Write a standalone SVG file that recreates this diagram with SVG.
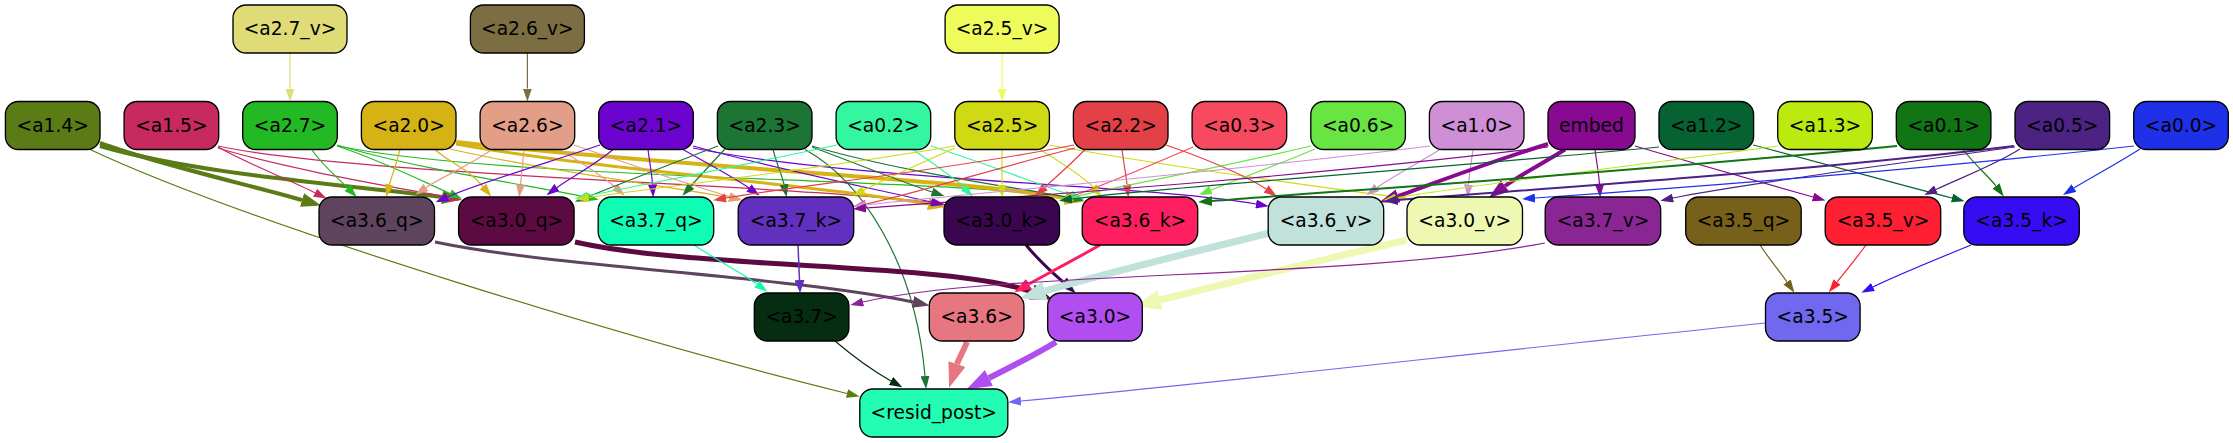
<svg xmlns="http://www.w3.org/2000/svg" width="2233" height="443" viewBox="0 0 2233 443">
<style>
.n rect{stroke:#000;stroke-width:1.33}
.n text{font-family:"DejaVu Sans","Liberation Sans",sans-serif;font-size:18.67px;text-anchor:middle;fill:#000}
#edges path{fill:none;stroke-width:1.2}
</style>
<defs>
<marker id="t-a27v" viewBox="0 0 10 10" refX="0" refY="5" markerUnits="userSpaceOnUse" markerWidth="13" markerHeight="9" orient="auto" preserveAspectRatio="none"><path d="M0,0L10,5L0,10z" fill="#dfdb77"/></marker>
<marker id="t-a26v" viewBox="0 0 10 10" refX="0" refY="5" markerUnits="userSpaceOnUse" markerWidth="13" markerHeight="9" orient="auto" preserveAspectRatio="none"><path d="M0,0L10,5L0,10z" fill="#7d6d42"/></marker>
<marker id="t-a25v" viewBox="0 0 10 10" refX="0" refY="5" markerUnits="userSpaceOnUse" markerWidth="13" markerHeight="9" orient="auto" preserveAspectRatio="none"><path d="M0,0L10,5L0,10z" fill="#eefb5a"/></marker>
<marker id="t-a14" viewBox="0 0 10 10" refX="0" refY="5" markerUnits="userSpaceOnUse" markerWidth="13" markerHeight="9" orient="auto" preserveAspectRatio="none"><path d="M0,0L10,5L0,10z" fill="#5a7b15"/></marker>
<marker id="k-a14" viewBox="0 0 10 10" refX="0" refY="5" markerUnits="userSpaceOnUse" markerWidth="20" markerHeight="14" orient="auto" preserveAspectRatio="none"><path d="M0,0L10,5L0,10z" fill="#5a7b15"/></marker>
<marker id="t-a15" viewBox="0 0 10 10" refX="0" refY="5" markerUnits="userSpaceOnUse" markerWidth="13" markerHeight="9" orient="auto" preserveAspectRatio="none"><path d="M0,0L10,5L0,10z" fill="#c72a5e"/></marker>
<marker id="t-a27" viewBox="0 0 10 10" refX="0" refY="5" markerUnits="userSpaceOnUse" markerWidth="13" markerHeight="9" orient="auto" preserveAspectRatio="none"><path d="M0,0L10,5L0,10z" fill="#23b924"/></marker>
<marker id="t-a20" viewBox="0 0 10 10" refX="0" refY="5" markerUnits="userSpaceOnUse" markerWidth="13" markerHeight="9" orient="auto" preserveAspectRatio="none"><path d="M0,0L10,5L0,10z" fill="#d6b315"/></marker>
<marker id="k-a20a" viewBox="0 0 10 10" refX="0" refY="5" markerUnits="userSpaceOnUse" markerWidth="18" markerHeight="12" orient="auto" preserveAspectRatio="none"><path d="M0,0L10,5L0,10z" fill="#d6b315"/></marker>
<marker id="k-a20b" viewBox="0 0 10 10" refX="0" refY="5" markerUnits="userSpaceOnUse" markerWidth="20" markerHeight="14" orient="auto" preserveAspectRatio="none"><path d="M0,0L10,5L0,10z" fill="#d6b315"/></marker>
<marker id="t-a26" viewBox="0 0 10 10" refX="0" refY="5" markerUnits="userSpaceOnUse" markerWidth="13" markerHeight="9" orient="auto" preserveAspectRatio="none"><path d="M0,0L10,5L0,10z" fill="#e39e87"/></marker>
<marker id="t-a21" viewBox="0 0 10 10" refX="0" refY="5" markerUnits="userSpaceOnUse" markerWidth="13" markerHeight="9" orient="auto" preserveAspectRatio="none"><path d="M0,0L10,5L0,10z" fill="#6c04cf"/></marker>
<marker id="t-a23" viewBox="0 0 10 10" refX="0" refY="5" markerUnits="userSpaceOnUse" markerWidth="13" markerHeight="9" orient="auto" preserveAspectRatio="none"><path d="M0,0L10,5L0,10z" fill="#1c7534"/></marker>
<marker id="t-a02" viewBox="0 0 10 10" refX="0" refY="5" markerUnits="userSpaceOnUse" markerWidth="13" markerHeight="9" orient="auto" preserveAspectRatio="none"><path d="M0,0L10,5L0,10z" fill="#34f6a0"/></marker>
<marker id="t-a25" viewBox="0 0 10 10" refX="0" refY="5" markerUnits="userSpaceOnUse" markerWidth="13" markerHeight="9" orient="auto" preserveAspectRatio="none"><path d="M0,0L10,5L0,10z" fill="#d0da14"/></marker>
<marker id="t-a22" viewBox="0 0 10 10" refX="0" refY="5" markerUnits="userSpaceOnUse" markerWidth="13" markerHeight="9" orient="auto" preserveAspectRatio="none"><path d="M0,0L10,5L0,10z" fill="#e44047"/></marker>
<marker id="t-a03" viewBox="0 0 10 10" refX="0" refY="5" markerUnits="userSpaceOnUse" markerWidth="13" markerHeight="9" orient="auto" preserveAspectRatio="none"><path d="M0,0L10,5L0,10z" fill="#f74a60"/></marker>
<marker id="t-a06" viewBox="0 0 10 10" refX="0" refY="5" markerUnits="userSpaceOnUse" markerWidth="13" markerHeight="9" orient="auto" preserveAspectRatio="none"><path d="M0,0L10,5L0,10z" fill="#68e443"/></marker>
<marker id="t-a10" viewBox="0 0 10 10" refX="0" refY="5" markerUnits="userSpaceOnUse" markerWidth="13" markerHeight="9" orient="auto" preserveAspectRatio="none"><path d="M0,0L10,5L0,10z" fill="#cf8fd6"/></marker>
<marker id="t-emb" viewBox="0 0 10 10" refX="0" refY="5" markerUnits="userSpaceOnUse" markerWidth="13" markerHeight="9" orient="auto" preserveAspectRatio="none"><path d="M0,0L10,5L0,10z" fill="#880a91"/></marker>
<marker id="k-emb" viewBox="0 0 10 10" refX="0" refY="5" markerUnits="userSpaceOnUse" markerWidth="20" markerHeight="14" orient="auto" preserveAspectRatio="none"><path d="M0,0L10,5L0,10z" fill="#880a91"/></marker>
<marker id="t-a12" viewBox="0 0 10 10" refX="0" refY="5" markerUnits="userSpaceOnUse" markerWidth="13" markerHeight="9" orient="auto" preserveAspectRatio="none"><path d="M0,0L10,5L0,10z" fill="#066331"/></marker>
<marker id="t-a13" viewBox="0 0 10 10" refX="0" refY="5" markerUnits="userSpaceOnUse" markerWidth="13" markerHeight="9" orient="auto" preserveAspectRatio="none"><path d="M0,0L10,5L0,10z" fill="#bbea11"/></marker>
<marker id="t-a01" viewBox="0 0 10 10" refX="0" refY="5" markerUnits="userSpaceOnUse" markerWidth="13" markerHeight="9" orient="auto" preserveAspectRatio="none"><path d="M0,0L10,5L0,10z" fill="#117516"/></marker>
<marker id="k-a01" viewBox="0 0 10 10" refX="0" refY="5" markerUnits="userSpaceOnUse" markerWidth="14" markerHeight="10" orient="auto" preserveAspectRatio="none"><path d="M0,0L10,5L0,10z" fill="#117516"/></marker>
<marker id="t-a05" viewBox="0 0 10 10" refX="0" refY="5" markerUnits="userSpaceOnUse" markerWidth="13" markerHeight="9" orient="auto" preserveAspectRatio="none"><path d="M0,0L10,5L0,10z" fill="#4c2383"/></marker>
<marker id="k-a05" viewBox="0 0 10 10" refX="0" refY="5" markerUnits="userSpaceOnUse" markerWidth="14" markerHeight="10" orient="auto" preserveAspectRatio="none"><path d="M0,0L10,5L0,10z" fill="#4c2383"/></marker>
<marker id="t-a00" viewBox="0 0 10 10" refX="0" refY="5" markerUnits="userSpaceOnUse" markerWidth="13" markerHeight="9" orient="auto" preserveAspectRatio="none"><path d="M0,0L10,5L0,10z" fill="#1e31e9"/></marker>
<marker id="k-a36q" viewBox="0 0 10 10" refX="0" refY="5" markerUnits="userSpaceOnUse" markerWidth="17" markerHeight="12" orient="auto" preserveAspectRatio="none"><path d="M0,0L10,5L0,10z" fill="#5e455d"/></marker>
<marker id="k-a30q" viewBox="0 0 10 10" refX="0" refY="5" markerUnits="userSpaceOnUse" markerWidth="22" markerHeight="16" orient="auto" preserveAspectRatio="none"><path d="M0,0L10,5L0,10z" fill="#5b0b42"/></marker>
<marker id="t-a37q" viewBox="0 0 10 10" refX="0" refY="5" markerUnits="userSpaceOnUse" markerWidth="13" markerHeight="9" orient="auto" preserveAspectRatio="none"><path d="M0,0L10,5L0,10z" fill="#0ffcb5"/></marker>
<marker id="t-a37k" viewBox="0 0 10 10" refX="0" refY="5" markerUnits="userSpaceOnUse" markerWidth="13" markerHeight="10" orient="auto" preserveAspectRatio="none"><path d="M0,0L10,5L0,10z" fill="#6230bf"/></marker>
<marker id="k-a30k" viewBox="0 0 10 10" refX="0" refY="5" markerUnits="userSpaceOnUse" markerWidth="17" markerHeight="12" orient="auto" preserveAspectRatio="none"><path d="M0,0L10,5L0,10z" fill="#3a0650"/></marker>
<marker id="k-a36k" viewBox="0 0 10 10" refX="0" refY="5" markerUnits="userSpaceOnUse" markerWidth="17" markerHeight="12" orient="auto" preserveAspectRatio="none"><path d="M0,0L10,5L0,10z" fill="#fd1f5f"/></marker>
<marker id="k-a36v" viewBox="0 0 10 10" refX="0" refY="5" markerUnits="userSpaceOnUse" markerWidth="26" markerHeight="20" orient="auto" preserveAspectRatio="none"><path d="M0,0L10,5L0,10z" fill="#c1e2db"/></marker>
<marker id="k-a30v" viewBox="0 0 10 10" refX="0" refY="5" markerUnits="userSpaceOnUse" markerWidth="26" markerHeight="20" orient="auto" preserveAspectRatio="none"><path d="M0,0L10,5L0,10z" fill="#eef8b2"/></marker>
<marker id="t-a37v" viewBox="0 0 10 10" refX="0" refY="5" markerUnits="userSpaceOnUse" markerWidth="13" markerHeight="9" orient="auto" preserveAspectRatio="none"><path d="M0,0L10,5L0,10z" fill="#8a2694"/></marker>
<marker id="t-a35q" viewBox="0 0 10 10" refX="0" refY="5" markerUnits="userSpaceOnUse" markerWidth="13" markerHeight="9" orient="auto" preserveAspectRatio="none"><path d="M0,0L10,5L0,10z" fill="#776019"/></marker>
<marker id="t-a35v" viewBox="0 0 10 10" refX="0" refY="5" markerUnits="userSpaceOnUse" markerWidth="13" markerHeight="9" orient="auto" preserveAspectRatio="none"><path d="M0,0L10,5L0,10z" fill="#fe1f32"/></marker>
<marker id="t-a35k" viewBox="0 0 10 10" refX="0" refY="5" markerUnits="userSpaceOnUse" markerWidth="13" markerHeight="9" orient="auto" preserveAspectRatio="none"><path d="M0,0L10,5L0,10z" fill="#360cf3"/></marker>
<marker id="t-a37" viewBox="0 0 10 10" refX="0" refY="5" markerUnits="userSpaceOnUse" markerWidth="13" markerHeight="9" orient="auto" preserveAspectRatio="none"><path d="M0,0L10,5L0,10z" fill="#062d12"/></marker>
<marker id="k-a36" viewBox="0 0 10 10" refX="0" refY="5" markerUnits="userSpaceOnUse" markerWidth="25" markerHeight="18" orient="auto" preserveAspectRatio="none"><path d="M0,0L10,5L0,10z" fill="#e67680"/></marker>
<marker id="k-a30" viewBox="0 0 10 10" refX="0" refY="5" markerUnits="userSpaceOnUse" markerWidth="25" markerHeight="18" orient="auto" preserveAspectRatio="none"><path d="M0,0L10,5L0,10z" fill="#b14ef0"/></marker>
<marker id="t-a35" viewBox="0 0 10 10" refX="0" refY="5" markerUnits="userSpaceOnUse" markerWidth="13" markerHeight="9" orient="auto" preserveAspectRatio="none"><path d="M0,0L10,5L0,10z" fill="#7168f0"/></marker>
</defs>
<rect width="2233" height="443" fill="#fff"/>
<g id="edges">
<path d="M290,53 L290,88.5" stroke="#dfdb77" marker-end="url(#t-a27v)"/>
<path d="M527.4,53 L527.4,88.5" stroke="#7d6d42" marker-end="url(#t-a26v)"/>
<path d="M1002.1,53 L1002.1,88.5" stroke="#eefb5a" marker-end="url(#t-a25v)"/>
<path d="M100,143 C160,165 250,185 302,200" stroke="#5a7b15" style="stroke-width:4" marker-end="url(#k-a14)"/>
<path d="M100,146 C200,175 350,185 442,197" stroke="#5a7b15" style="stroke-width:4" marker-end="url(#k-a14)"/>
<path d="M89,149 C250,225 650,345 847,393.5" stroke="#5a7b15" marker-end="url(#t-a14)"/>
<path d="M218,147 C250,165 290,180 315,192.7" stroke="#c72a5e" marker-end="url(#t-a15)"/>
<path d="M218,148 C290,170 400,188 449,197.5" stroke="#c72a5e" marker-end="url(#t-a15)"/>
<path d="M218,146 C350,175 800,185 933,203" stroke="#c72a5e" marker-end="url(#t-a15)"/>
<path d="M311.7,149.5 C322,165 338,178 347.7,187.9" stroke="#23b924" marker-end="url(#t-a27)"/>
<path d="M337,146 C380,160 420,180 450,193.5" stroke="#23b924" marker-end="url(#t-a27)"/>
<path d="M337,145 C420,170 530,185 586,197" stroke="#23b924" marker-end="url(#t-a27)"/>
<path d="M338,146 C500,180 950,178 1071,198" stroke="#23b924" marker-end="url(#t-a27)"/>
<path d="M400,149.5 C396,165 392,175 389.5,184.5" stroke="#d6b315" marker-end="url(#t-a20)"/>
<path d="M435,149.5 C448,162 468,168 483,186.5" stroke="#d6b315" marker-end="url(#t-a20)"/>
<path d="M456,144 C600,170 820,185 928,204" stroke="#d6b315" style="stroke-width:3" marker-end="url(#k-a20a)"/>
<path d="M456,142 C650,165 950,178 1065,198" stroke="#d6b315" style="stroke-width:4" marker-end="url(#k-a20b)"/>
<path d="M450,149 C550,172 680,188 729,197.5" stroke="#d6b315" marker-end="url(#t-a20)"/>
<path d="M492,149.5 C470,165 440,178 426,187.5" stroke="#e39e87" marker-end="url(#t-a26)"/>
<path d="M524,149.5 L520.5,184.5" stroke="#e39e87" marker-end="url(#t-a26)"/>
<path d="M560,149.5 C585,165 605,178 615,187" stroke="#e39e87" marker-end="url(#t-a26)"/>
<path d="M574,145 C640,168 700,188 729.5,196.5" stroke="#e39e87" marker-end="url(#t-a26)"/>
<path d="M600,145 C540,165 480,183 447.5,197" stroke="#6c04cf" marker-end="url(#t-a21)"/>
<path d="M613,149.5 C595,165 570,178 557,187.5" stroke="#6c04cf" marker-end="url(#t-a21)"/>
<path d="M648,149.5 C650,165 652,175 652.5,184.5" stroke="#6c04cf" marker-end="url(#t-a21)"/>
<path d="M683,149.5 C710,165 735,178 749,188" stroke="#6c04cf" marker-end="url(#t-a21)"/>
<path d="M693,146 C780,170 880,190 931,202" stroke="#6c04cf" marker-end="url(#t-a21)"/>
<path d="M693,148 C850,180 1150,185 1256,204" stroke="#6c04cf" marker-end="url(#t-a21)"/>
<path d="M725,149 C710,165 698,178 691,186" stroke="#1c7534" marker-end="url(#t-a23)"/>
<path d="M718,146 C660,168 610,188 587,197" stroke="#1c7534" marker-end="url(#t-a23)"/>
<path d="M773,149.5 C777,165 782,175 784,184.5" stroke="#1c7534" marker-end="url(#t-a23)"/>
<path d="M812,147 C860,165 905,183 932,192" stroke="#1c7534" marker-end="url(#t-a23)"/>
<path d="M812,146 C900,172 1020,188 1071,198" stroke="#1c7534" marker-end="url(#t-a23)"/>
<path d="M805,149.5 C860,180 915,260 925,376" stroke="#1c7534" marker-end="url(#t-a23)"/>
<path d="M837,145 C720,170 630,187 588,196" stroke="#34f6a0" marker-end="url(#t-a02)"/>
<path d="M913,149.5 C935,165 955,178 964,187.5" stroke="#34f6a0" marker-end="url(#t-a02)"/>
<path d="M931,146 C990,165 1040,185 1071,195" stroke="#34f6a0" marker-end="url(#t-a02)"/>
<path d="M955,146 C800,172 650,188 589,197.5" stroke="#d0da14" marker-end="url(#t-a25)"/>
<path d="M955,148 C910,168 880,182 864,190" stroke="#d0da14" marker-end="url(#t-a25)"/>
<path d="M1002,149.5 L1002,184.5" stroke="#d0da14" marker-end="url(#t-a25)"/>
<path d="M1040,149.5 C1065,165 1085,178 1093,187" stroke="#d0da14" marker-end="url(#t-a25)"/>
<path d="M1049,145 C1200,172 1330,188 1395,197" stroke="#d0da14" marker-end="url(#t-a25)"/>
<path d="M1074,145 C950,170 780,188 726,198" stroke="#e44047" marker-end="url(#t-a22)"/>
<path d="M1075,148 C990,170 910,195 866,204" stroke="#e44047" marker-end="url(#t-a22)"/>
<path d="M1085,149.5 C1070,165 1055,178 1045,187" stroke="#e44047" marker-end="url(#t-a22)"/>
<path d="M1122,149.5 C1124,165 1126,175 1127,184.5" stroke="#e44047" marker-end="url(#t-a22)"/>
<path d="M1166,145 C1210,160 1250,178 1266,189" stroke="#e44047" marker-end="url(#t-a22)"/>
<path d="M1193,147 C1140,170 1095,188 1073,196" stroke="#f74a60" marker-end="url(#t-a03)"/>
<path d="M1311,146 C1200,172 1110,188 1073,197" stroke="#68e443" marker-end="url(#t-a06)"/>
<path d="M1315,149 C1270,168 1230,182 1211,190" stroke="#68e443" marker-end="url(#t-a06)"/>
<path d="M1473,149.5 C1471,165 1469,175 1468.5,184.5" stroke="#cf8fd6" marker-end="url(#t-a10)"/>
<path d="M1440,149.5 C1415,165 1390,178 1377,187.5" stroke="#cf8fd6" marker-end="url(#t-a10)"/>
<path d="M1430,146 C1200,175 950,195 866,205" stroke="#cf8fd6" marker-end="url(#t-a10)"/>
<path d="M1548,144 C1480,165 1430,185 1398,196" stroke="#880a91" style="stroke-width:4" marker-end="url(#k-emb)"/>
<path d="M1565,149.5 C1540,165 1520,175 1505,186" stroke="#880a91" style="stroke-width:4" marker-end="url(#k-emb)"/>
<path d="M1595,149.5 C1597,165 1599,175 1599.5,184.5" stroke="#880a91" marker-end="url(#t-emb)"/>
<path d="M1635,146 C1700,165 1770,185 1813,197" stroke="#880a91" marker-end="url(#t-emb)"/>
<path d="M1548,147 C1300,178 1000,198 866,208" stroke="#880a91" marker-end="url(#t-emb)"/>
<path d="M1753,145 C1830,165 1900,185 1952,198" stroke="#066331" marker-end="url(#t-a12)"/>
<path d="M1659,147 C1400,172 1150,188 1072,199" stroke="#066331" marker-end="url(#t-a12)"/>
<path d="M1778,146 C1600,170 1450,188 1396,198" stroke="#bbea11" marker-end="url(#t-a13)"/>
<path d="M1963,149.5 C1975,165 1990,178 1996,186" stroke="#117516" marker-end="url(#t-a01)"/>
<path d="M1897,146 C1600,175 1350,190 1212,201" stroke="#117516" style="stroke-width:2" marker-end="url(#k-a01)"/>
<path d="M2015,147 C1850,170 1720,188 1673,198" stroke="#4c2383" marker-end="url(#t-a05)"/>
<path d="M2020,149 C1995,165 1960,178 1936,189.5" stroke="#4c2383" marker-end="url(#t-a05)"/>
<path d="M2014,146 C1800,172 1550,188 1398,200" stroke="#4c2383" style="stroke-width:2" marker-end="url(#k-a05)"/>
<path d="M2140,149 C2115,165 2090,178 2074,188" stroke="#1e31e9" marker-end="url(#t-a00)"/>
<path d="M2134,146 C1900,172 1650,190 1535,198" stroke="#1e31e9" marker-end="url(#t-a00)"/>
<path d="M435,242 C560,268 780,275 913,302" stroke="#5e455d" style="stroke-width:3" marker-end="url(#k-a36q)"/>
<path d="M575,242 C700,270 950,262 1032,292" stroke="#5b0b42" style="stroke-width:5" marker-end="url(#k-a30q)"/>
<path d="M694,245 C720,262 745,275 757,284" stroke="#0ffcb5" marker-end="url(#t-a37q)"/>
<path d="M798,245 L799.5,280" stroke="#6230bf" style="stroke-width:1.5" marker-end="url(#t-a37k)"/>
<path d="M1026,245 C1040,262 1055,275 1063,282" stroke="#3a0650" style="stroke-width:3" marker-end="url(#k-a30k)"/>
<path d="M1100,245 C1070,262 1045,275 1029,284" stroke="#fd1f5f" style="stroke-width:3" marker-end="url(#k-a36k)"/>
<path d="M1270,233 C1180,255 1100,275 1045,291" stroke="#c1e2db" style="stroke-width:7" marker-end="url(#k-a36v)"/>
<path d="M1407,240 C1300,265 1220,285 1160,300" stroke="#eef8b2" style="stroke-width:7" marker-end="url(#k-a30v)"/>
<path d="M1545,243 C1350,280 1000,270 863,302" stroke="#8a2694" marker-end="url(#t-a37v)"/>
<path d="M1760,245 C1770,260 1780,272 1787,282" stroke="#776019" marker-end="url(#t-a35q)"/>
<path d="M1866,245 C1855,260 1845,272 1837,282" stroke="#fe1f32" marker-end="url(#t-a35v)"/>
<path d="M1971,245 C1930,262 1895,276 1873,287" stroke="#360cf3" marker-end="url(#t-a35k)"/>
<path d="M835,341 C855,358 875,372 891,381" stroke="#062d12" marker-end="url(#t-a37)"/>
<path d="M967,342 C963,352 959,358 957,364" stroke="#e67680" style="stroke-width:6" marker-end="url(#k-a36)"/>
<path d="M1056,342 C1035,355 1011,367 989,378" stroke="#b14ef0" style="stroke-width:6" marker-end="url(#k-a30)"/>
<path d="M1766,323 C1500,350 1200,385 1021,401" stroke="#7168f0" marker-end="url(#t-a35)"/>
</g>
<g id="n-a2_7_v" class="n"><rect x="233" y="5" width="114" height="48" rx="13" fill="#dfdb77"/><text x="290" y="35">&lt;a2.7_v&gt;</text></g>
<g id="n-a2_6_v" class="n"><rect x="470.4" y="5" width="114" height="48" rx="13" fill="#7d6d42"/><text x="527.4" y="35">&lt;a2.6_v&gt;</text></g>
<g id="n-a2_5_v" class="n"><rect x="945.1" y="5" width="114" height="48" rx="13" fill="#eefb5a"/><text x="1002.1" y="35">&lt;a2.5_v&gt;</text></g>
<g id="n-a1_4" class="n"><rect x="5.4" y="101.5" width="94.6" height="48" rx="13" fill="#5a7b15"/><text x="52.7" y="131.5">&lt;a1.4&gt;</text></g>
<g id="n-a1_5" class="n"><rect x="124.1" y="101.5" width="94.6" height="48" rx="13" fill="#c72a5e"/><text x="171.4" y="131.5">&lt;a1.5&gt;</text></g>
<g id="n-a2_7" class="n"><rect x="242.7" y="101.5" width="94.6" height="48" rx="13" fill="#23b924"/><text x="290" y="131.5">&lt;a2.7&gt;</text></g>
<g id="n-a2_0" class="n"><rect x="361.4" y="101.5" width="94.6" height="48" rx="13" fill="#d6b315"/><text x="408.7" y="131.5">&lt;a2.0&gt;</text></g>
<g id="n-a2_6" class="n"><rect x="480.1" y="101.5" width="94.6" height="48" rx="13" fill="#e39e87"/><text x="527.4" y="131.5">&lt;a2.6&gt;</text></g>
<g id="n-a2_1" class="n"><rect x="598.7" y="101.5" width="94.6" height="48" rx="13" fill="#6c04cf"/><text x="646" y="131.5">&lt;a2.1&gt;</text></g>
<g id="n-a2_3" class="n"><rect x="717.4" y="101.5" width="94.6" height="48" rx="13" fill="#1c7534"/><text x="764.7" y="131.5">&lt;a2.3&gt;</text></g>
<g id="n-a0_2" class="n"><rect x="836.1" y="101.5" width="94.6" height="48" rx="13" fill="#34f6a0"/><text x="883.4" y="131.5">&lt;a0.2&gt;</text></g>
<g id="n-a2_5" class="n"><rect x="954.8" y="101.5" width="94.6" height="48" rx="13" fill="#d0da14"/><text x="1002.1" y="131.5">&lt;a2.5&gt;</text></g>
<g id="n-a2_2" class="n"><rect x="1073.4" y="101.5" width="94.6" height="48" rx="13" fill="#e44047"/><text x="1120.7" y="131.5">&lt;a2.2&gt;</text></g>
<g id="n-a0_3" class="n"><rect x="1192.1" y="101.5" width="94.6" height="48" rx="13" fill="#f74a60"/><text x="1239.4" y="131.5">&lt;a0.3&gt;</text></g>
<g id="n-a0_6" class="n"><rect x="1310.8" y="101.5" width="94.6" height="48" rx="13" fill="#68e443"/><text x="1358.1" y="131.5">&lt;a0.6&gt;</text></g>
<g id="n-a1_0" class="n"><rect x="1429.4" y="101.5" width="94.6" height="48" rx="13" fill="#cf8fd6"/><text x="1476.7" y="131.5">&lt;a1.0&gt;</text></g>
<g id="n-embed" class="n"><rect x="1548" y="101.5" width="87" height="48" rx="13" fill="#880a91"/><text x="1591.5" y="131.5">embed</text></g>
<g id="n-a1_2" class="n"><rect x="1659" y="101.5" width="94.6" height="48" rx="13" fill="#066331"/><text x="1706.3" y="131.5">&lt;a1.2&gt;</text></g>
<g id="n-a1_3" class="n"><rect x="1777.7" y="101.5" width="94.6" height="48" rx="13" fill="#bbea11"/><text x="1825" y="131.5">&lt;a1.3&gt;</text></g>
<g id="n-a0_1" class="n"><rect x="1896.3" y="101.5" width="94.6" height="48" rx="13" fill="#117516"/><text x="1943.6" y="131.5">&lt;a0.1&gt;</text></g>
<g id="n-a0_5" class="n"><rect x="2015" y="101.5" width="94.6" height="48" rx="13" fill="#4c2383"/><text x="2062.3" y="131.5">&lt;a0.5&gt;</text></g>
<g id="n-a0_0" class="n"><rect x="2133.7" y="101.5" width="94.6" height="48" rx="13" fill="#1e31e9"/><text x="2181" y="131.5">&lt;a0.0&gt;</text></g>
<g id="n-a3_6_q" class="n"><rect x="319" y="197" width="115.5" height="48" rx="13" fill="#5e455d"/><text x="376.8" y="227">&lt;a3.6_q&gt;</text></g>
<g id="n-a3_0_q" class="n"><rect x="458.6" y="197" width="115.5" height="48" rx="13" fill="#5b0b42"/><text x="516.4" y="227">&lt;a3.0_q&gt;</text></g>
<g id="n-a3_7_q" class="n"><rect x="598.2" y="197" width="115.5" height="48" rx="13" fill="#0ffcb5"/><text x="656" y="227">&lt;a3.7_q&gt;</text></g>
<g id="n-a3_7_k" class="n"><rect x="738.2" y="197" width="115.5" height="48" rx="13" fill="#6230bf"/><text x="796" y="227">&lt;a3.7_k&gt;</text></g>
<g id="n-a3_0_k" class="n"><rect x="944" y="197" width="115.5" height="48" rx="13" fill="#3a0650"/><text x="1001.8" y="227">&lt;a3.0_k&gt;</text></g>
<g id="n-a3_6_k" class="n"><rect x="1082.2" y="197" width="115.5" height="48" rx="13" fill="#fd1f5f"/><text x="1140" y="227">&lt;a3.6_k&gt;</text></g>
<g id="n-a3_6_v" class="n"><rect x="1268.2" y="197" width="115.5" height="48" rx="13" fill="#c1e2db"/><text x="1326" y="227">&lt;a3.6_v&gt;</text></g>
<g id="n-a3_0_v" class="n"><rect x="1407" y="197" width="115.5" height="48" rx="13" fill="#eef8b2"/><text x="1464.7" y="227">&lt;a3.0_v&gt;</text></g>
<g id="n-a3_7_v" class="n"><rect x="1545.2" y="197" width="115.5" height="48" rx="13" fill="#8a2694"/><text x="1603" y="227">&lt;a3.7_v&gt;</text></g>
<g id="n-a3_5_q" class="n"><rect x="1685.7" y="197" width="115.5" height="48" rx="13" fill="#776019"/><text x="1743.5" y="227">&lt;a3.5_q&gt;</text></g>
<g id="n-a3_5_v" class="n"><rect x="1825.2" y="197" width="115.5" height="48" rx="13" fill="#fe1f32"/><text x="1883" y="227">&lt;a3.5_v&gt;</text></g>
<g id="n-a3_5_k" class="n"><rect x="1963.8" y="197" width="115.5" height="48" rx="13" fill="#360cf3"/><text x="2021.6" y="227">&lt;a3.5_k&gt;</text></g>
<g id="n-a3_7" class="n"><rect x="754.3" y="293" width="94.6" height="48" rx="13" fill="#062d12"/><text x="801.6" y="323">&lt;a3.7&gt;</text></g>
<g id="n-a3_6" class="n"><rect x="929.3" y="293" width="94.6" height="48" rx="13" fill="#e67680"/><text x="976.6" y="323">&lt;a3.6&gt;</text></g>
<g id="n-a3_0" class="n"><rect x="1047.7" y="293" width="94.6" height="48" rx="13" fill="#b14ef0"/><text x="1095" y="323">&lt;a3.0&gt;</text></g>
<g id="n-a3_5" class="n"><rect x="1765.5" y="293" width="94.6" height="48" rx="13" fill="#7168f0"/><text x="1812.8" y="323">&lt;a3.5&gt;</text></g>
<g id="n-resid_post" class="n"><rect x="859.8" y="389" width="148" height="48" rx="13" fill="#23fdb4"/><text x="933.8" y="419">&lt;resid_post&gt;</text></g>
</svg>
